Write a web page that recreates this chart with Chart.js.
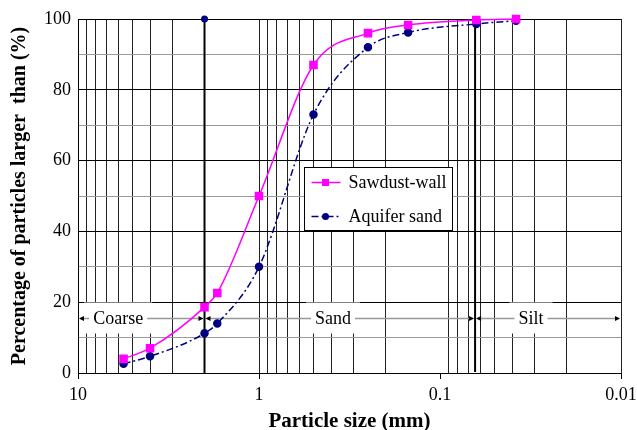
<!DOCTYPE html>
<html>
<head>
<meta charset="utf-8">
<script src="https://cdn.jsdelivr.net/npm/chart.js@4"></script>
<style>
  html, body { margin: 0; padding: 0; background: #fff; }
  #wrap { width: 637px; height: 430px; }
</style>
</head>
<body>
<div id="wrap"><canvas id="psd"></canvas></div>
<script>
// sieve sizes (mm) and percentages
const sizes = [5.6, 4.0, 2.0, 1.7, 1.0, 0.5, 0.25, 0.15, 0.063, 0.038];
const sawdustWall = [4.0, 7.0, 18.6, 22.6, 50, 87, 96, 98.3, 99.7, 100];
const aquiferSand = [2.6, 4.7, 11.2, 14.0, 30, 73, 92, 96.2, 98.6, 99.5];

// vertical grid lines (log decades) and which of them carry labels
const gridValues = [10, 9, 8, 7, 6, 5, 4, 3, 2,
  1, 0.9, 0.8, 0.7, 0.6, 0.5, 0.4, 0.3, 0.2,
  0.1, 0.09, 0.08, 0.07, 0.06, 0.05, 0.04, 0.03, 0.02, 0.01];
const xLabels = [10, 1, 0.1, 0.01];
const noGrid = [0.1];

// soil classes
const zoneNames = ['Coarse', 'Sand', 'Silt'];
const zoneEdges = [10, 2, 0.064, 0.01];
const zoneLabelAt = [6.0, 0.39, 0.0314];
const zoneLevel = 15.4;

const serif = "'Liberation Serif', 'Times New Roman', serif";
const pink = '#ff00ff';
const navy = '#000080';

const zonePlugin = {
  id: 'zones',
  beforeDatasetsDraw(chart) {
    const { ctx, scales: { x, y } } = chart;
    const py = Math.round(y.getPixelForValue(zoneLevel)) + 0.5;
    const arrow = (tip, dir) => {
      ctx.beginPath();
      ctx.moveTo(tip, py);
      ctx.lineTo(tip - dir * 5, py - 2.5);
      ctx.lineTo(tip - dir * 5, py + 2.5);
      ctx.closePath();
      ctx.fill();
    };
    ctx.save();
    ctx.font = '18px ' + serif;
    ctx.textAlign = 'center';
    ctx.textBaseline = 'middle';
    zoneNames.forEach((name, i) => {
      const x1 = x.getPixelForValue(zoneEdges[i]) + 2;
      const x2 = x.getPixelForValue(zoneEdges[i + 1]) - 2;
      const tx = x.getPixelForValue(zoneLabelAt[i]);
      const w = ctx.measureText(name).width;
      ctx.fillStyle = '#fff';
      ctx.fillRect(tx - w / 2 - 9, py - 16, w + 18, 31);
      ctx.strokeStyle = '#999';
      ctx.lineWidth = 1.5;
      ctx.beginPath();
      ctx.moveTo(x1, py); ctx.lineTo(tx - w / 2 - 4, py);
      ctx.moveTo(tx + w / 2 + 4, py); ctx.lineTo(x2, py);
      ctx.stroke();
      ctx.fillStyle = '#000';
      arrow(x1 - 1, -1);
      arrow(x2 + 1, 1);
      ctx.fillText(name, tx, py + 1);
    });
    ctx.restore();
  }
};

const legendPlugin = {
  id: 'boxLegend',
  afterDatasetsDraw(chart) {
    const { ctx } = chart;
    const box = { left: 304.5, top: 167.5, width: 148, height: 63 };
    ctx.save();
    ctx.fillStyle = '#fff';
    ctx.fillRect(box.left, box.top, box.width, box.height);
    ctx.strokeStyle = '#000';
    ctx.lineWidth = 1;
    ctx.strokeRect(box.left, box.top, box.width, box.height);
    ctx.font = '18px ' + serif;
    ctx.textBaseline = 'middle';
    ctx.textAlign = 'left';
    chart.data.datasets.filter(d => d.label).forEach((d, i) => {
      const ly = box.top + 15 + i * 34;
      ctx.strokeStyle = d.borderColor;
      ctx.lineWidth = d.borderWidth;
      ctx.setLineDash(d.borderDash || []);
      ctx.beginPath();
      ctx.moveTo(box.left + 7, ly);
      ctx.lineTo(box.left + 36, ly);
      ctx.stroke();
      ctx.setLineDash([]);
      ctx.fillStyle = d.pointBackgroundColor;
      if (d.pointStyle === 'rect') {
        ctx.fillRect(box.left + 17.5, ly - 3.5, 7, 7);
      } else {
        ctx.beginPath();
        ctx.arc(box.left + 21, ly, 3.5, 0, Math.PI * 2);
        ctx.fill();
      }
      ctx.fillStyle = '#000';
      ctx.fillText(d.label, box.left + 44, ly + 1);
    });
    ctx.restore();
  }
};

new Chart(document.getElementById('psd'), {
  type: 'line',
  data: {
    datasets: [
      {
        label: 'Sawdust-wall',
        data: sizes.map((s, i) => ({ x: s, y: sawdustWall[i] })),
        borderColor: pink,
        backgroundColor: pink,
        pointBackgroundColor: pink,
        pointBorderColor: pink,
        pointStyle: 'rect',
        pointRadius: 5,
        borderWidth: 1.5,
        cubicInterpolationMode: 'monotone',
        clip: false
      },
      {
        label: 'Aquifer sand',
        data: sizes.map((s, i) => ({ x: s, y: aquiferSand[i] })),
        borderColor: navy,
        backgroundColor: navy,
        pointBackgroundColor: navy,
        pointBorderColor: navy,
        pointStyle: 'circle',
        pointRadius: 3.5,
        borderWidth: 1.5,
        borderDash: [7, 3, 2, 3],
        cubicInterpolationMode: 'monotone',
        clip: false
      },
      {
        data: [{ x: zoneEdges[1], y: 0 }, { x: zoneEdges[1], y: 100 }],
        borderColor: '#000',
        borderWidth: 2,
        pointRadius: [0, 2.5],
        pointBackgroundColor: navy,
        pointBorderColor: navy,
        clip: false
      },
      {
        data: [{ x: zoneEdges[2], y: 0.3 }, { x: zoneEdges[2], y: 100 }],
        borderColor: '#000',
        borderWidth: 2,
        pointRadius: 0
      }
    ]
  },
  options: {
    responsive: true,
    maintainAspectRatio: false,
    animation: false,
    layout: { padding: { top: 19, right: 16, left: 0, bottom: 0 } },
    plugins: {
      legend: { display: false },
      tooltip: { enabled: false }
    },
    scales: {
      x: {
        type: 'logarithmic',
        reverse: true,
        min: 0.01,
        max: 10,
        afterBuildTicks: scale => { scale.ticks = gridValues.map(v => ({ value: v })); },
        afterFit: scale => {
          scale.height = 57;
          scale.paddingLeft = 0;
          scale.paddingRight = 0;
        },
        grid: {
          color: c => noGrid.includes(c.tick && c.tick.value) ? 'rgba(0,0,0,0)' : '#222',
          tickColor: c => xLabels.includes(c.tick && c.tick.value) ? '#000' : 'rgba(0,0,0,0)',
          tickLength: 6,
          lineWidth: 1
        },
        border: { color: '#000', width: 1 },
        ticks: {
          autoSkip: false,
          maxRotation: 0,
          padding: 5,
          color: '#000',
          font: { family: serif, size: 18 },
          callback: v => xLabels.includes(v) ? String(v) : ''
        },
        title: {
          display: true,
          text: 'Particle size (mm)',
          color: '#000',
          font: { family: serif, size: 21, weight: 'bold', lineHeight: 1 },
          padding: { top: 0, bottom: -2 }
        }
      },
      y: {
        min: 0,
        max: 100,
        afterFit: scale => {
          scale.width = 78;
          scale.paddingTop = 0;
          scale.paddingBottom = 0;
        },
        grid: {
          color: c => (c.tick && c.tick.value % 20 === 0) ? '#000' : '#999',
          drawTicks: false,
          lineWidth: 1
        },
        border: { color: '#000', width: 1 },
        ticks: {
          stepSize: 10,
          padding: 7,
          color: '#000',
          font: { family: serif, size: 18 },
          callback: v => v % 20 === 0 ? v : ''
        },
        title: {
          display: true,
          text: 'Percentage of particles larger  than (%)',
          color: '#000',
          font: { family: serif, size: 20, weight: 'bold', lineHeight: 1 },
          padding: { top: 10, bottom: 0 }
        }
      }
    }
  },
  plugins: [zonePlugin, legendPlugin]
});
</script>
</body>
</html>
